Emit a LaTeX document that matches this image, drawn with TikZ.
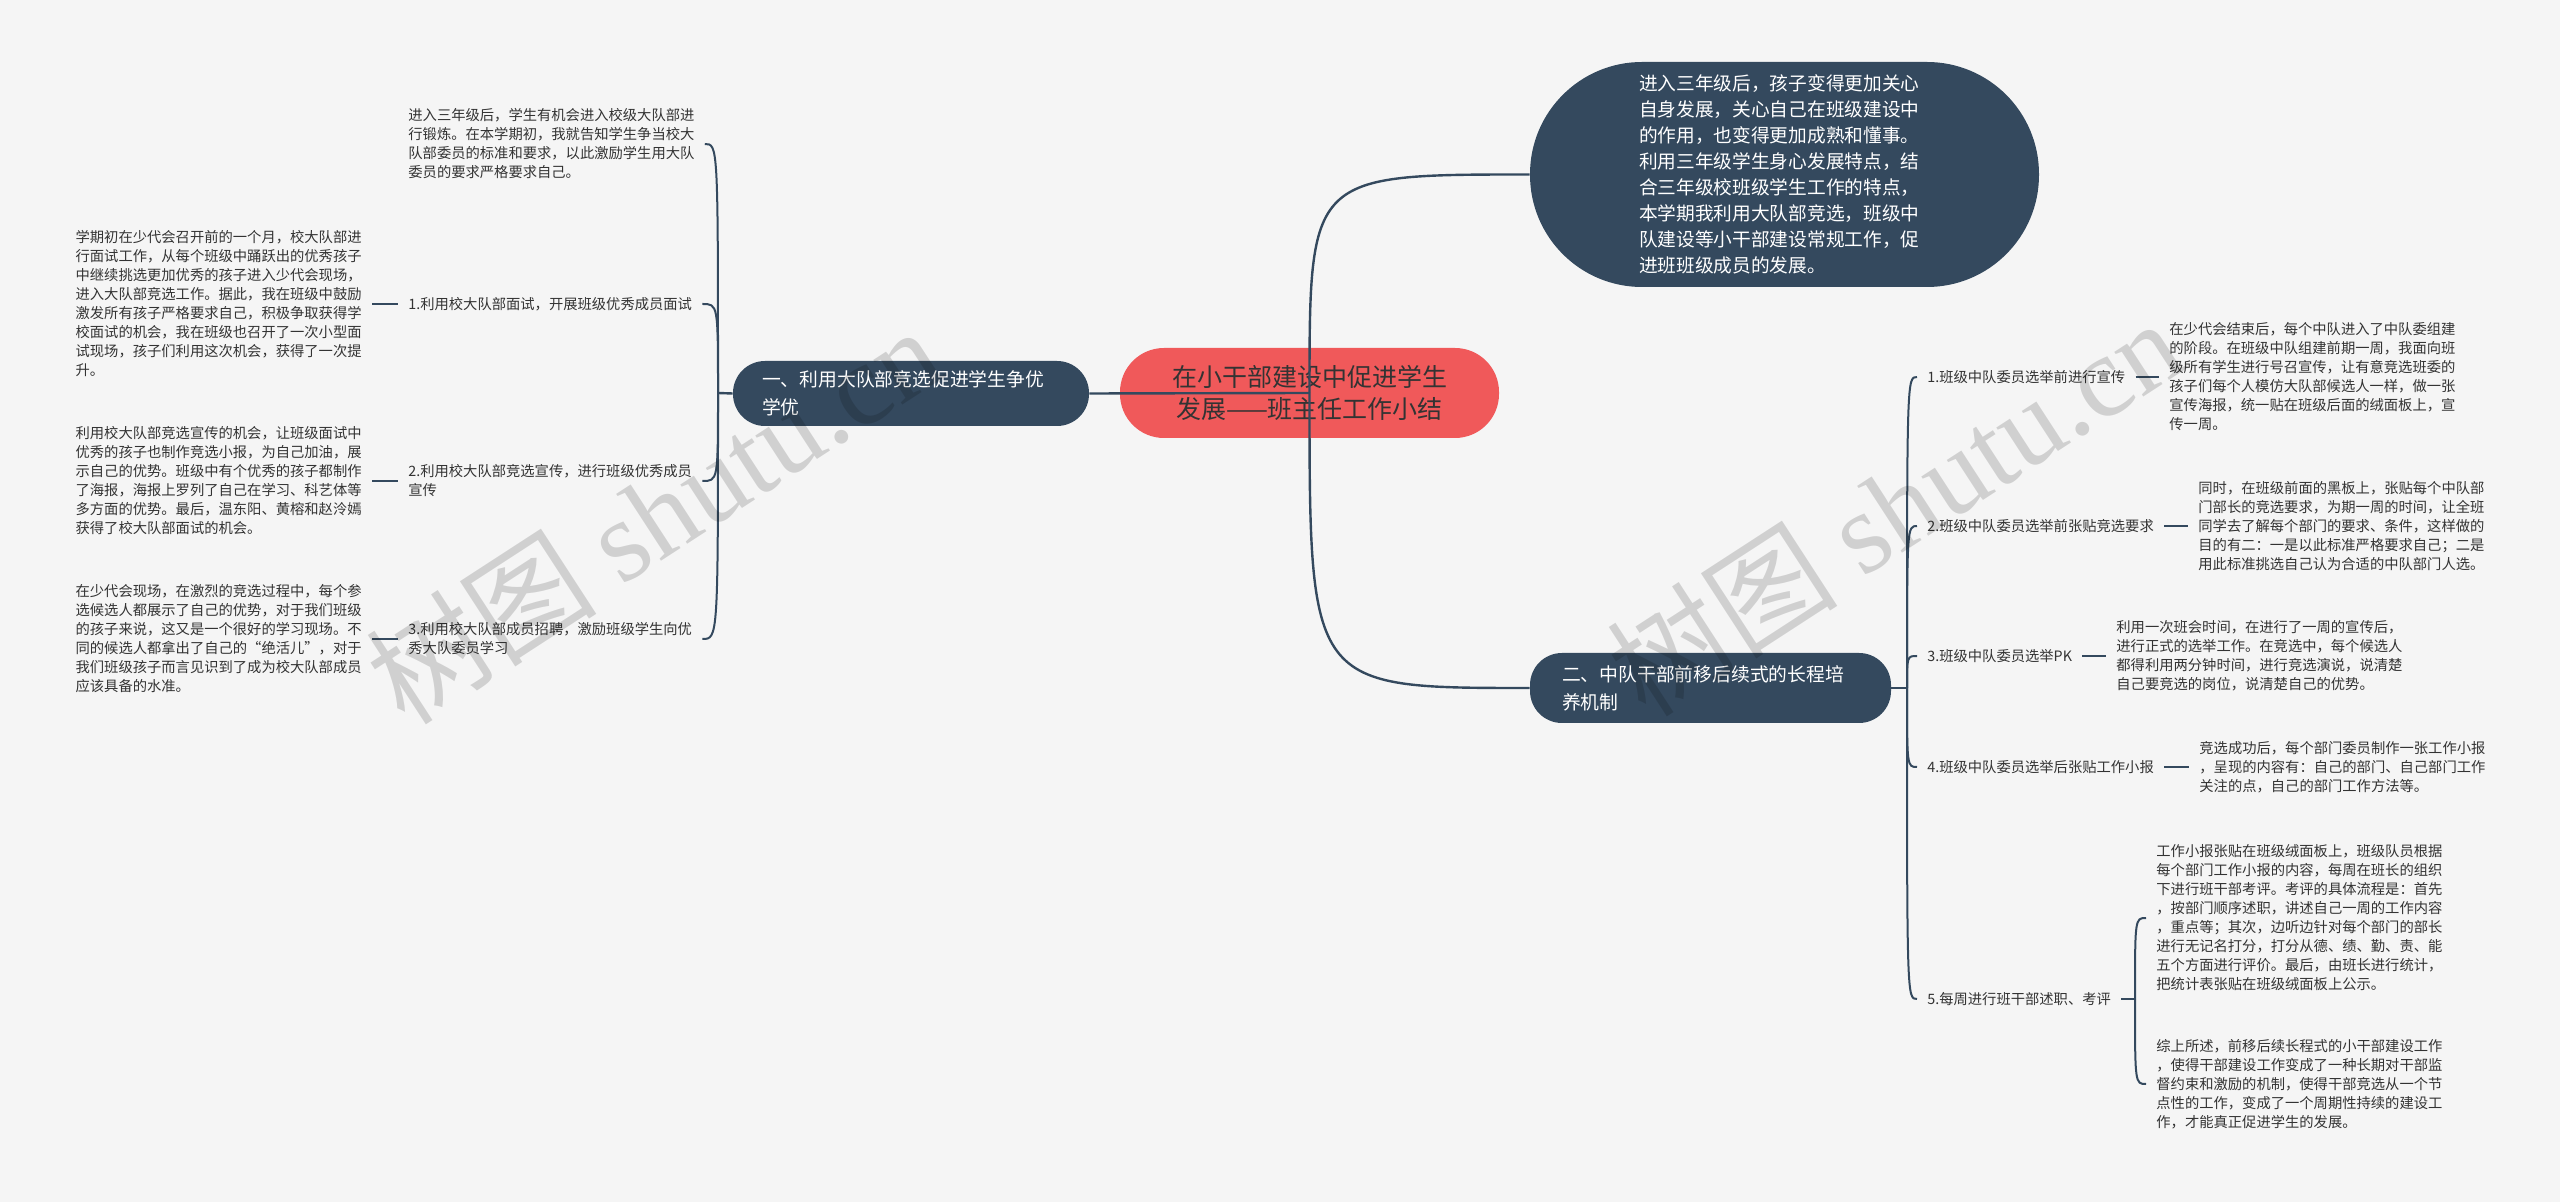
\documentclass[tikz,border=0pt]{standalone}
\usepackage{fontspec}
\setmainfont{Noto Sans CJK SC}
\newfontfamily\markfont{Liberation Serif}
\definecolor{navy}{HTML}{34495E}
\definecolor{coral}{HTML}{F0595A}
\definecolor{paper}{HTML}{F5F5F5}
\definecolor{ink}{HTML}{333333}

\begin{document}
\begin{tikzpicture}[x=0.5pt,y=-0.5pt,
    rootbox/.style={fill=coral, text=ink, rounded corners=22pt, minimum width=189.5pt,
      minimum height=45pt, align=center, font=\fontsize{12.5pt}{16.3pt}\selectfont},
    topic/.style={fill=navy, text=white, rounded corners=16pt, align=left,
      font=\fontsize{9.4pt}{13.9pt}\selectfont},
    leaf/.style={text=ink, align=left, inner xsep=5pt, inner ysep=2pt,
      font=\fontsize{7.15pt}{9.5pt}\selectfont},
    link/.style={draw=navy, line width=1.2pt},
    twig/.style={draw=navy, line width=1pt},
    wmark/.style={text=black, text opacity=0.15, rotate=33,
      font=\fontsize{58pt}{58pt}\selectfont}]

    \fill[paper] (0,0) rectangle (2560,1202);

    % main topics
    \node[rootbox] (root) at (1309.5,393) {在小干部建设中促进学生\\发展——班主任工作小结};
    \node[topic, text width=149pt, inner xsep=14.5pt, minimum height=32.5pt] (left) at (911,393.5)
        {一、利用大队部竞选促进学生争优\\学优};
    \node[topic, text width=148.5pt, inner xsep=16pt, minimum height=35pt] (right) at (1710.5,688)
        {二、中队干部前移后续式的长程培\\养机制};
    \node[topic, text width=145.5pt, inner xsep=54.5pt, minimum height=112.5pt, rounded corners=56pt,
          font=\fontsize{9.35pt}{12.95pt}\selectfont] (intro) at (1784.5,174.5)
        {进入三年级后，孩子变得更加关心\\自身发展，关心自己在班级建设中\\的作用，也变得更加成熟和懂事。\\利用三年级学生身心发展特点，结\\合三年级校班级学生工作的特点，\\本学期我利用大队部竞选，班级中\\队建设等小干部建设常规工作，促\\进班班级成员的发展。};

    \coordinate (hubl) at (718,393);
    \coordinate (hubr) at (1907,688);
    \coordinate (hubv) at (2135,999);

    % left branch
    \node[leaf, anchor=west] (l0) at (398,144)
        {进入三年级后，学生有机会进入校级大队部进\\行锻炼。在本学期初，我就告知学生争当校大\\队部委员的标准和要求，以此激励学生用大队\\委员的要求严格要求自己。};
    \node[leaf, anchor=west] (l1) at (398,304) {1.利用校大队部面试，开展班级优秀成员面试};
    \node[leaf, anchor=west] (l2) at (398,481) {2.利用校大队部竞选宣传，进行班级优秀成员\\宣传};
    \node[leaf, anchor=west] (l3) at (398,639) {3.利用校大队部成员招聘，激励班级学生向优\\秀大队委员学习};

    \node[leaf, anchor=east] (n1) at (372,304)
        {学期初在少代会召开前的一个月，校大队部进\\行面试工作，从每个班级中踊跃出的优秀孩子\\中继续挑选更加优秀的孩子进入少代会现场，\\进入大队部竞选工作。据此，我在班级中鼓励\\激发所有孩子严格要求自己，积极争取获得学\\校面试的机会，我在班级也召开了一次小型面\\试现场，孩子们利用这次机会，获得了一次提\\升。};
    \node[leaf, anchor=east] (n2) at (372,481)
        {利用校大队部竞选宣传的机会，让班级面试中\\优秀的孩子也制作竞选小报，为自己加油，展\\示自己的优势。班级中有个优秀的孩子都制作\\了海报，海报上罗列了自己在学习、科艺体等\\多方面的优势。最后，温东阳、黄榕和赵泠嫣\\获得了校大队部面试的机会。};
    \node[leaf, anchor=east] (n3) at (372,639)
        {在少代会现场，在激烈的竞选过程中，每个参\\选候选人都展示了自己的优势，对于我们班级\\的孩子来说，这又是一个很好的学习现场。不\\同的候选人都拿出了自己的“绝活儿”，对于\\我们班级孩子而言见识到了成为校大队部成员\\应该具备的水准。};

    % right branch
    \node[leaf, anchor=west] (r1) at (1917,377) {1.班级中队委员选举前进行宣传};
    \node[leaf, anchor=west] (r2) at (1917,526) {2.班级中队委员选举前张贴竞选要求};
    \node[leaf, anchor=west] (r3) at (1917,656) {3.班级中队委员选举PK};
    \node[leaf, anchor=west] (r4) at (1917,767) {4.班级中队委员选举后张贴工作小报};
    \node[leaf, anchor=west] (r5) at (1917,999) {5.每周进行班干部述职、考评};

    \node[leaf, anchor=west] (m1) at (2159,377)
        {在少代会结束后，每个中队进入了中队委组建\\的阶段。在班级中队组建前期一周，我面向班\\级所有学生进行号召宣传，让有意竞选班委的\\孩子们每个人模仿大队部候选人一样，做一张\\宣传海报，统一贴在班级后面的绒面板上，宣\\传一周。};
    \node[leaf, anchor=west] (m2) at (2188,526)
        {同时，在班级前面的黑板上，张贴每个中队部\\门部长的竞选要求，为期一周的时间，让全班\\同学去了解每个部门的要求、条件，这样做的\\目的有二：一是以此标准严格要求自己；二是\\用此标准挑选自己认为合适的中队部门人选。};
    \node[leaf, anchor=west] (m3) at (2106,656)
        {利用一次班会时间，在进行了一周的宣传后，\\进行正式的选举工作。在竞选中，每个候选人\\都得利用两分钟时间，进行竞选演说，说清楚\\自己要竞选的岗位，说清楚自己的优势。};
    \node[leaf, anchor=west] (m4) at (2189,767)
        {竞选成功后，每个部门委员制作一张工作小报\\，呈现的内容有：自己的部门、自己部门工作\\关注的点，自己的部门工作方法等。};
    \node[leaf, anchor=west] (m5a) at (2146,918)
        {工作小报张贴在班级绒面板上，班级队员根据\\每个部门工作小报的内容，每周在班长的组织\\下进行班干部考评。考评的具体流程是：首先\\，按部门顺序述职，讲述自己一周的工作内容\\，重点等；其次，边听边针对每个部门的部长\\进行无记名打分，打分从德、绩、勤、责、能\\五个方面进行评价。最后，由班长进行统计，\\把统计表张贴在班级绒面板上公示。};
    \node[leaf, anchor=west] (m5b) at (2146,1084)
        {综上所述，前移后续长程式的小干部建设工作\\，使得干部建设工作变成了一种长期对干部监\\督约束和激励的机制，使得干部竞选从一个节\\点性的工作，变成了一个周期性持续的建设工\\作，才能真正促进学生的发展。};

    % connectors
    \draw[link] (root.center) -- (left.east);
    \draw[link] (root.center) .. controls (root.center |- intro.west) and (root.center |- intro.west) .. (intro.west);
    \draw[link] (root.center) .. controls (root.center |- right.west) and (root.center |- right.west) .. (right.west);
    \draw[link] (left.west) -- (hubl);
    \draw[link] (right.east) -- (hubr);
    \foreach \k in {l0,l1,l2,l3}
        \draw[twig] (hubl) .. controls (hubl |- \k.east) .. (\k.east);
    \foreach \k in {r1,r2,r3,r4,r5}
        \draw[twig] (hubr) .. controls (hubr |- \k.west) .. (\k.west);
    \foreach \k in {1,2,3}
        \draw[twig] (n\k.east) -- (l\k.west);
    \foreach \k in {1,2,3,4}
        \draw[twig] (r\k.east) -- (m\k.west);
    \draw[twig] (r5.east) -- (hubv);
    \draw[twig] (hubv) .. controls (hubv |- m5a.west) .. (m5a.west);
    \draw[twig] (hubv) .. controls (hubv |- m5b.west) .. (m5b.west);

    % watermark
    \node[wmark] (wm1) at (653,514) {树图 {\markfont shutu.cn}};
    \node[wmark] (wm2) at (1894,506) {树图 {\markfont shutu.cn}};
\end{tikzpicture}
\end{document}
